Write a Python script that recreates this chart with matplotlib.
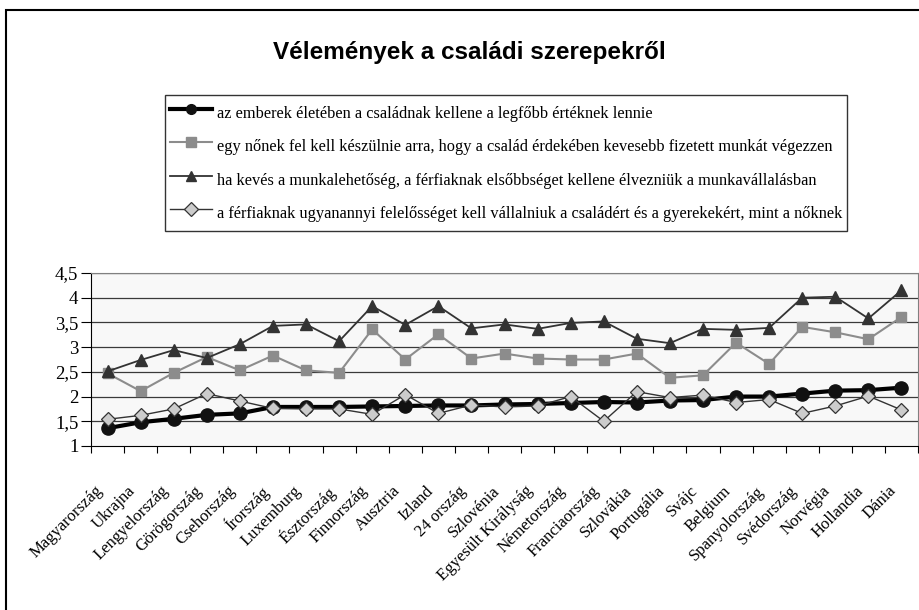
import numpy as np
import matplotlib.pyplot as plt
from matplotlib.patches import Rectangle
from matplotlib.transforms import ScaledTranslation

# adatok
orszagok = ['Magyarország', 'Ukrajna', 'Lengyelország', 'Görögország', 'Csehország',
            'Írország', 'Luxemburg', 'Észtország', 'Finnország', 'Ausztria', 'Izland',
            '24 ország', 'Szlovénia', 'Egyesült Királyság', 'Németország',
            'Franciaország', 'Szlovákia', 'Portugália', 'Svájc', 'Belgium',
            'Spanyolország', 'Svédország', 'Norvégia', 'Hollandia', 'Dánia']

csalad = [1.36, 1.48, 1.55, 1.63, 1.66, 1.79, 1.79, 1.79, 1.80, 1.81, 1.82, 1.82,
          1.84, 1.85, 1.87, 1.89, 1.88, 1.92, 1.93, 2.00, 2.00, 2.06, 2.12, 2.13, 2.18]
no_munka = [2.47, 2.11, 2.48, 2.80, 2.53, 2.83, 2.53, 2.48, 3.36, 2.75, 3.26, 2.77,
            2.87, 2.77, 2.75, 2.75, 2.87, 2.38, 2.43, 3.09, 2.66, 3.41, 3.30, 3.16, 3.61]
ferfi_elso = [2.51, 2.74, 2.94, 2.78, 3.06, 3.43, 3.46, 3.12, 3.83, 3.45, 3.83, 3.38,
              3.46, 3.37, 3.49, 3.52, 3.17, 3.08, 3.37, 3.35, 3.39, 4.00, 4.02, 3.58, 4.15]
felelosseg = [1.54, 1.62, 1.75, 2.06, 1.91, 1.76, 1.75, 1.75, 1.64, 2.04, 1.66, 1.83,
              1.79, 1.81, 2.00, 1.50, 2.10, 1.98, 2.03, 1.88, 1.94, 1.66, 1.81, 2.01, 1.73]

cimkek = ['az emberek életében a családnak kellene a legfőbb értéknek lennie',
          'egy nőnek fel kell készülnie arra, hogy a család érdekében kevesebb fizetett munkát végezzen',
          'ha kevés a munkalehetőség, a férfiaknak elsőbbséget kellene élvezniük a munkavállalásban',
          'a férfiaknak ugyanannyi felelősséget kell vállalniuk a családért és a gyerekekért, mint a nőknek']
yticks = [1, 1.5, 2, 2.5, 3, 3.5, 4, 4.5]

plt.rcParams['font.family'] = ['Liberation Serif', 'DejaVu Serif']

fig = plt.figure(figsize=(9.2, 6.1), dpi=100)
ax = fig.add_axes([91/920, 1-446/610, 827/920, 173/610])
ax.set_facecolor('#f8f8f8')

x = np.arange(len(orszagok))
ax.plot(x, csalad, color='black', lw=3, marker='o', ms=9.5, mfc='#111111', mec='#111111',
        label=cimkek[0], zorder=3)
ax.plot(x, no_munka, color='#8c8c8c', lw=1.5, marker='s', ms=7, mfc='#8c8c8c', mec='#8c8c8c',
        label=cimkek[1], zorder=3)
ax.plot(x, ferfi_elso, color='#333333', lw=1.3, marker='^', ms=8, mfc='#333333', mec='#333333',
        label=cimkek[2], zorder=3)
ax.plot(x, felelosseg, color='#333333', lw=1, marker='D', ms=7, mfc='#cccccc', mec='#333333',
        mew=0.9, label=cimkek[3], zorder=4)

ax.set_xlim(-0.5, len(orszagok) - 0.5)
ax.set_ylim(1, 4.5)
ax.set_yticks(yticks)
ax.set_yticklabels([f'{v:g}'.replace('.', ',') for v in yticks], fontsize=13.5)
for v in yticks[1:]:
    ax.axhline(v, color='#3a3a3a', lw=0.9, zorder=1)

# kategória-határok a tengelyen
ax.set_xticks(np.arange(-0.5, len(orszagok), 1))
ax.set_xticklabels([])
ax.set_xticks(x, minor=True)
ax.set_xticklabels(orszagok, minor=True, rotation=45, ha='right', va='top',
                   rotation_mode='anchor', fontsize=12)
ax.tick_params(axis='x', which='minor', length=0, pad=26.5)
ax.tick_params(axis='x', which='major', length=5, direction='out', color='black')
ax.tick_params(axis='y', length=7, direction='out', pad=2)
shift = ScaledTranslation(-13/100, 0, fig.dpi_scale_trans)
for lab in ax.get_xticklabels(minor=True):
    lab.set_transform(lab.get_transform() + shift)

ax.spines['left'].set_color('black')
ax.spines['bottom'].set_color('black')
ax.spines['top'].set_color('#808080')
ax.spines['right'].set_color('#808080')

fig.text(469/920, 1-53/610, 'Vélemények a családi szerepekről', ha='center', va='center',
         fontsize=17.5, fontweight='bold', family=['Liberation Sans', 'DejaVu Sans'])

leg = fig.legend(loc='upper left', bbox_to_anchor=(165/920, 1-95/610), fontsize=11.8,
                 frameon=True, fancybox=False, edgecolor='black', handlelength=2.55,
                 handletextpad=0.3, handleheight=2.0, labelspacing=0.5, borderpad=0.3,
                 borderaxespad=0)
leg.get_frame().set_linewidth(1)
for h in leg.legend_handles:
    h.set_markersize(7)

fig.patches.append(Rectangle((6/920, -0.1), 1.2, 0.1 + (1-10/610),
                             transform=fig.transFigure, fill=False, ec='black', lw=1.5))

fig.savefig('out.png', dpi=100)
